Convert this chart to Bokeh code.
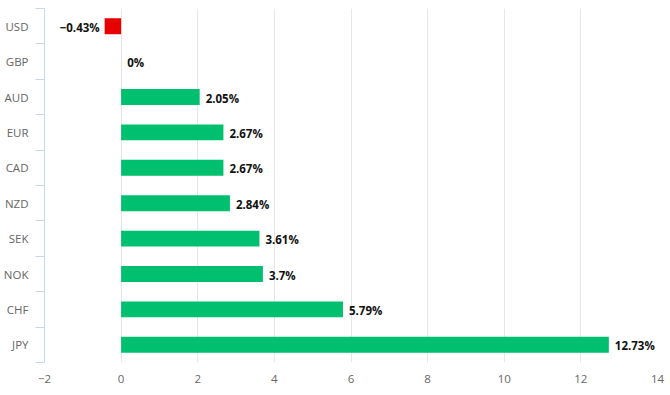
from bokeh.plotting import figure
from bokeh.models import ColumnDataSource, FixedTicker, Range1d
from bokeh.core.properties import value
from bokeh.embed import file_html
from bokeh.resources import INLINE

currencies = ["USD", "GBP", "AUD", "EUR", "CAD", "NZD", "SEK", "NOK", "CHF", "JPY"]
changes = [-0.43, 0, 2.05, 2.67, 2.67, 2.84, 3.61, 3.7, 5.79, 12.73]
x_ticks = [-2, 0, 2, 4, 6, 8, 10, 12, 14]

n = len(currencies)
ys = [n - i - 0.5 for i in range(n)]
labels = [(f"{v:g}%").replace("-", "\u2212") for v in changes]
colors = ["#e60000" if v < 0 else "#00bf6f" for v in changes]

pos = [i for i, v in enumerate(changes) if v >= 0]
neg = [i for i, v in enumerate(changes) if v < 0]

src = ColumnDataSource(dict(y=ys, v=changes, lab=labels, c=colors))
src_pos = ColumnDataSource(dict(y=[ys[i] for i in pos], v=[changes[i] for i in pos], lab=[labels[i] for i in pos]))
src_neg = ColumnDataSource(dict(y=[ys[i] for i in neg], v=[changes[i] for i in neg], lab=[labels[i] for i in neg]))

FONT = "Open Sans"

p = figure(width=670, height=390, output_backend="svg", toolbar_location=None,
           x_range=Range1d(-2, 14), y_range=Range1d(0, n),
           min_border_left=44, min_border_right=13, min_border_top=8, min_border_bottom=28)
p.outline_line_color = None
p.background_fill_color = "white"

p.hbar(y="y", left=0, right="v", height=0.45, color="c", source=src, line_color=None)

font = value(FONT)
p.text(x="v", y="y", text="lab", source=src_pos, text_font=font, text_font_size="11.5px",
       text_font_style="bold", text_color="#111111", text_align="left", text_baseline="middle",
       x_offset=6, y_offset=1)
p.text(x="v", y="y", text="lab", source=src_neg, text_font=font, text_font_size="11.5px",
       text_font_style="bold", text_color="#111111", text_align="right", text_baseline="middle",
       x_offset=-5, y_offset=1)

tick_text = {t: str(t).replace("-", "\u2212") for t in x_ticks}

p.xaxis.ticker = FixedTicker(ticks=x_ticks)
p.xaxis.axis_line_color = None
p.xaxis.major_tick_line_color = None
p.xaxis.minor_tick_line_color = None
p.xaxis.major_label_text_font = FONT
p.xaxis.major_label_text_font_size = "11.5px"
p.xaxis.major_label_text_color = "#666666"
p.xaxis.major_label_standoff = 6
p.xaxis.major_label_overrides = tick_text

p.yaxis.ticker = FixedTicker(ticks=ys, minor_ticks=list(range(n + 1)))
p.yaxis.major_label_overrides = {y: c for y, c in zip(ys, currencies)}
p.yaxis.axis_line_color = "#ccd6eb"
p.yaxis.major_tick_line_color = None
p.yaxis.major_tick_out = 0
p.yaxis.major_tick_in = 0
p.yaxis.minor_tick_line_color = "#ccd6eb"
p.yaxis.minor_tick_out = 9
p.yaxis.minor_tick_in = 0
p.yaxis.major_label_text_font = FONT
p.yaxis.major_label_text_font_size = "11.5px"
p.yaxis.major_label_text_color = "#666666"
p.yaxis.major_label_standoff = 7

p.xgrid.ticker = FixedTicker(ticks=x_ticks)
p.xgrid.grid_line_color = "#e6e6e6"
p.ygrid.grid_line_color = None

open("out.html", "w").write(file_html(p, INLINE))
